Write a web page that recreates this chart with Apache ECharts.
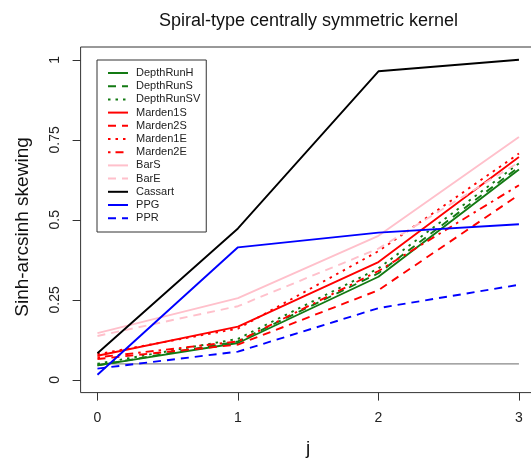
<!DOCTYPE html>
<html>
<head>
<meta charset="utf-8">
<script src="https://cdn.jsdelivr.net/npm/echarts@6/dist/echarts.min.js"></script>
<style>
  html, body { margin: 0; padding: 0; background: #fff; }
  #main { width: 531px; height: 464px; }
</style>
</head>
<body>
<div id="main"></div>
<script>
// data
var jValues = [0, 1, 2, 3];
var yTicks = [0, 0.25, 0.5, 0.75, 1];

var depthRunH  = [0.045, 0.115, 0.322, 0.657];
var depthRunS  = [0.045, 0.120, 0.333, 0.665];
var depthRunSV = [0.050, 0.128, 0.348, 0.676];
var marden1S   = [0.075, 0.166, 0.368, 0.696];
var marden2S   = [0.065, 0.110, 0.280, 0.578];
var marden1E   = [0.080, 0.160, 0.402, 0.707];
var marden2E   = [0.070, 0.120, 0.340, 0.608];
var barS       = [0.146, 0.255, 0.450, 0.759];
var barE       = [0.137, 0.230, 0.410, 0.680];
var cassart    = [0.083, 0.473, 0.964, 1.000];
var ppg        = [0.016, 0.414, 0.460, 0.486];
var ppr        = [0.035, 0.088, 0.224, 0.297];
var refLine    = [0.05, 0.05, 0.05, 0.05];

var dom = document.getElementById('main');
var myChart = echarts.init(dom, null, { renderer: 'canvas' });

var green = '#137a13';
var dashed = [8, 6];
var dotted = [2.5, 5];
var dotdash = [2.5, 5, 8, 5];

function mk(name, vals, color, type) {
    return {
        name: name,
        type: 'line',
        symbol: 'none',
        silent: true,
        data: vals.map(function (v, i) { return [jValues[i], v]; }),
        itemStyle: { color: color },
        lineStyle: { color: color, width: 1.9, type: type }
    };
}

var series = [
    mk('gray', refLine, '#888', 'solid'),
    mk('DepthRunH', depthRunH, green, 'solid'),
    mk('DepthRunS', depthRunS, green, dashed),
    mk('DepthRunSV', depthRunSV, green, dotted),
    mk('Marden1S', marden1S, '#ff0000', 'solid'),
    mk('Marden2S', marden2S, '#ff0000', dashed),
    mk('Marden1E', marden1E, '#ff0000', dotted),
    mk('Marden2E', marden2E, '#ff0000', dotdash),
    mk('BarS', barS, '#ffc0cb', 'solid'),
    mk('BarE', barE, '#ffc0cb', dashed),
    mk('Cassart', cassart, '#000000', 'solid'),
    mk('PPG', ppg, '#0000ff', 'solid'),
    mk('PPR', ppr, '#0000ff', dashed)
];
series[0].lineStyle.width = 1.2;

var font = 'Liberation Sans, Arial, sans-serif';

// R-style 4% padding around the data range
var xPad = 0.04 * (jValues[3] - jValues[0]);
var yPad = 0.04 * (yTicks[4] - yTicks[0]);

var option = {
    animation: false,
    backgroundColor: '#fff',
    textStyle: { fontFamily: font },
    grid: { left: 80.6, top: 47, width: 455.2, height: 345.6, outerBoundsMode: 'none', containLabel: false },
    xAxis: {
        type: 'value',
        min: jValues[0] - xPad,
        max: jValues[3] + xPad,
        axisLine: { show: false, onZero: false },
        axisTick: { show: true, inside: false, length: 8, customValues: jValues, lineStyle: { color: '#333' } },
        axisLabel: { margin: 19, fontSize: 14, color: '#222', fontFamily: font, customValues: jValues },
        splitLine: { show: false }
    },
    yAxis: {
        type: 'value',
        min: yTicks[0] - yPad,
        max: yTicks[4] + yPad,
        axisLine: { show: false, onZero: false },
        axisTick: { show: true, inside: false, length: 8, customValues: yTicks, lineStyle: { color: '#333' } },
        axisLabel: { margin: 18, fontSize: 14, rotate: 90, color: '#222', fontFamily: font,
            customValues: yTicks, formatter: function (v) { return String(v); } },
        splitLine: { show: false }
    },
    legend: {
        orient: 'vertical',
        left: 97,
        top: 60,
        data: ['DepthRunH', 'DepthRunS', 'DepthRunSV', 'Marden1S', 'Marden2S', 'Marden1E',
               'Marden2E', 'BarS', 'BarE', 'Cassart', 'PPG', 'PPR'],
        formatter: function (name) { return ' ' + name; },
        itemWidth: 20,
        itemHeight: 11,
        itemGap: 2.2,
        padding: [7.5, 6, 8.3, 10],
        borderColor: '#333',
        borderWidth: 1,
        borderRadius: 0,
        backgroundColor: '#fff',
        selectedMode: false,
        itemStyle: { opacity: 0, borderWidth: 0 },
        textStyle: { fontSize: 11, color: '#222', fontFamily: font }
    },
    graphic: [
        {
            type: 'rect',
            silent: true,
            z: 100,
            shape: { x: 80.6, y: 47, width: 455.2, height: 345.6 },
            style: { fill: 'none', stroke: '#333', lineWidth: 1 }
        },
        {
            type: 'text', x: 308.5, y: 21, silent: true,
            style: { text: 'Spiral-type centrally symmetric kernel', font: '18px ' + font,
                     fill: '#111', textAlign: 'center', textVerticalAlign: 'middle' }
        },
        {
            type: 'text', x: 308, y: 449, silent: true,
            style: { text: 'j', font: '19px ' + font,
                     fill: '#111', textAlign: 'center', textVerticalAlign: 'middle' }
        },
        {
            type: 'text', x: 23, y: 227, rotation: Math.PI / 2, silent: true,
            style: { text: 'Sinh-arcsinh skewing', font: '19px ' + font,
                     fill: '#111', textAlign: 'center', textVerticalAlign: 'middle' }
        }
    ],
    series: series
};

if (option && typeof option === 'object') {
    myChart.setOption(option);
}

window.addEventListener('resize', myChart.resize);
</script>
</body>
</html>
